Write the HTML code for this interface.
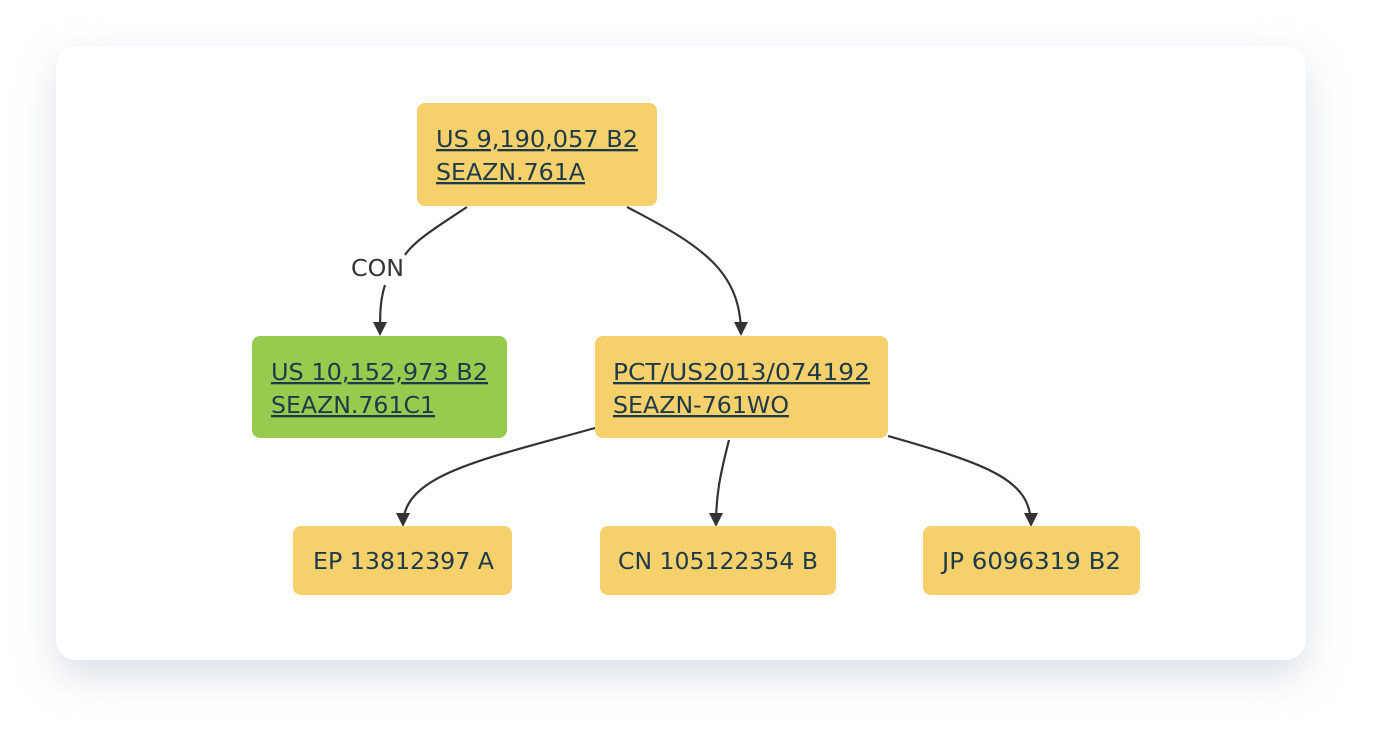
<!DOCTYPE html>
<html><head><style>
body{margin:0;width:1382px;height:746px;background:#fff;overflow:hidden}
.card{position:absolute;left:56px;top:46px;width:1250px;height:614px;border-radius:20px;background:#fff;box-shadow:0 16px 40px rgba(150,165,185,0.35)}
svg{position:absolute;left:0;top:0}
text{font-family:"DejaVu Sans","Liberation Sans",sans-serif;font-size:23px;fill:#1c3a4a}
.u{text-decoration:underline}
</style></head><body>
<div class="card"></div>
<svg width="1382" height="746">
<defs><marker id="a" markerWidth="14" markerHeight="14" refX="12" refY="7" orient="auto" markerUnits="userSpaceOnUse"><path d="M0,0 L14,7 L0,14 z" fill="#333"/></marker></defs>
<g fill="none" stroke="#333" stroke-width="2.2">
<path d="M467,207 C440,225 415,240 405,255"/>
<path d="M385,285 C380,300 380,315 380,334" marker-end="url(#a)"/>
<path d="M627,207 C700,245 741,270 741,334" marker-end="url(#a)"/>
<path d="M595,428 C480,460 403,475 403,525" marker-end="url(#a)"/>
<path d="M729,440 C720,475 716,495 716,525" marker-end="url(#a)"/>
<path d="M888,436 C990,465 1031,480 1031,525" marker-end="url(#a)"/>
</g>
<text x="351" y="276" textLength="53" lengthAdjust="spacingAndGlyphs" style="fill:#333">CON</text>
<rect x="417" y="103" width="240" height="103" rx="8" fill="#f6d06a"/>
<text x="436" y="147" class="u" textLength="202" lengthAdjust="spacingAndGlyphs">US 9,190,057 B2</text>
<text x="436" y="180" class="u" textLength="149" lengthAdjust="spacingAndGlyphs">SEAZN.761A</text>
<rect x="252" y="336" width="255" height="102" rx="8" fill="#97cb4f"/>
<text x="271" y="380" class="u" textLength="217" lengthAdjust="spacingAndGlyphs">US 10,152,973 B2</text>
<text x="271" y="413" class="u" textLength="164" lengthAdjust="spacingAndGlyphs">SEAZN.761C1</text>
<rect x="595" y="336" width="293" height="102" rx="8" fill="#f6d06a"/>
<text x="613" y="380" class="u" textLength="257" lengthAdjust="spacingAndGlyphs">PCT/US2013/074192</text>
<text x="613" y="413" class="u" textLength="176" lengthAdjust="spacingAndGlyphs">SEAZN-761WO</text>
<rect x="293" y="526" width="219" height="69" rx="8" fill="#f6d06a"/>
<text x="313" y="569" textLength="181" lengthAdjust="spacingAndGlyphs">EP 13812397 A</text>
<rect x="600" y="526" width="236" height="69" rx="8" fill="#f6d06a"/>
<text x="618" y="569" textLength="200" lengthAdjust="spacingAndGlyphs">CN 105122354 B</text>
<rect x="923" y="526" width="217" height="69" rx="8" fill="#f6d06a"/>
<text x="942" y="569" textLength="179" lengthAdjust="spacingAndGlyphs">JP 6096319 B2</text>
</svg>
</body></html>
